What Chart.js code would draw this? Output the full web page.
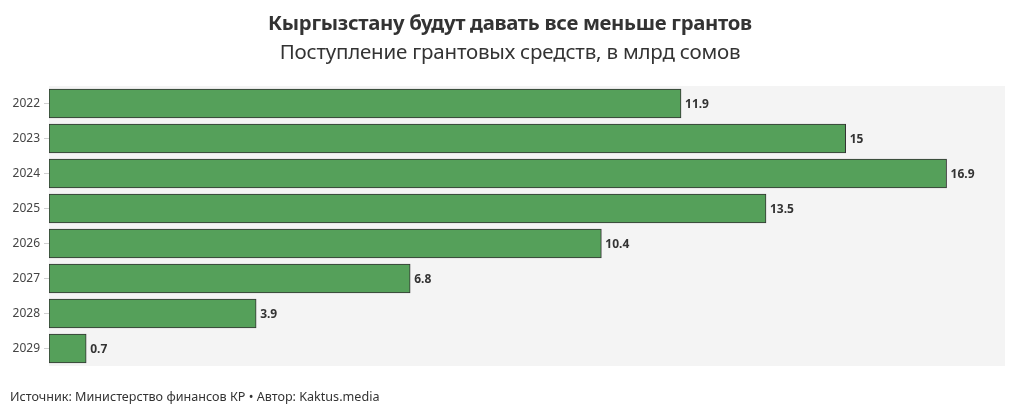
<!DOCTYPE html>
<html>
<head>
<meta charset="utf-8">
<script src="https://cdn.jsdelivr.net/npm/chart.js@4/dist/chart.umd.min.js"></script>
<style>
  body { margin: 0; background: #fff; font-family: "Noto Sans", "Open Sans", sans-serif; }
  .wrap { position: relative; width: 1020px; height: 417px; }
  .title { position: absolute; top: 8px; left: 0; width: 1020px; text-align: center;
           font-size: 20.3px; font-weight: bold; color: #333; letter-spacing: -0.3px; }
  .subtitle { position: absolute; top: 37px; left: 0; width: 1020px; text-align: center;
              font-size: 20.5px; color: #333; letter-spacing: -0.2px; }
  .footer { position: absolute; top: 388px; left: 10px; font-size: 12.6px; color: #333; }
  canvas { position: absolute; top: 0; left: 0; }
</style>
</head>
<body>
<div class="wrap">
  <canvas id="chart" width="1020" height="417"></canvas>
  <div class="title">Кыргызстану будут давать все меньше грантов</div>
  <div class="subtitle">Поступление грантовых средств, в млрд сомов</div>
  <div class="footer">Источник: Министерство финансов КР • Автор: Kaktus.media</div>
</div>
<script>
const years = ["2022", "2023", "2024", "2025", "2026", "2027", "2028", "2029"];
const grants = [11.9, 15, 16.9, 13.5, 10.4, 6.8, 3.9, 0.7];

// Grey background behind the plot area
const plotBackground = {
  id: 'plotBackground',
  beforeDraw(chart) {
    const { ctx, chartArea: a } = chart;
    ctx.save();
    ctx.fillStyle = '#f4f4f4';
    ctx.fillRect(a.left, a.top, a.right - a.left, a.bottom - a.top);
    ctx.restore();
  }
};

// Value labels to the right of each bar
const valueLabels = {
  id: 'valueLabels',
  afterDatasetsDraw(chart) {
    const { ctx } = chart;
    const meta = chart.getDatasetMeta(0);
    ctx.save();
    ctx.font = 'bold 12px "Noto Sans", "Open Sans", sans-serif';
    ctx.fillStyle = '#333';
    ctx.textBaseline = 'middle';
    meta.data.forEach((bar, i) => {
      ctx.fillText(String(grants[i]), bar.x + 4, bar.y + 1);
    });
    ctx.restore();
  }
};

new Chart(document.getElementById('chart'), {
  type: 'bar',
  data: {
    labels: years,
    datasets: [{
      data: grants,
      backgroundColor: '#55a05a',
      borderColor: '#333333',
      borderWidth: 1,
      borderSkipped: false,
      barThickness: 29
    }]
  },
  options: {
    indexAxis: 'y',
    responsive: false,
    animation: false,
    layout: { padding: { top: 86, bottom: 51, left: 0, right: 15 } },
    plugins: { legend: { display: false }, tooltip: { enabled: false } },
    scales: {
      x: { display: false, min: 0, max: 18 },
      y: {
        afterFit(scale) { scale.width = 49; },
        border: { display: false },
        grid: { offset: false, drawOnChartArea: false, drawTicks: true, tickLength: 5, color: '#d0d0d0' },
        ticks: { color: '#444', padding: 4, font: { family: '"Noto Sans", "Open Sans", sans-serif', size: 12 } }
      }
    }
  },
  plugins: [plotBackground, valueLabels]
});
</script>
</body>
</html>
